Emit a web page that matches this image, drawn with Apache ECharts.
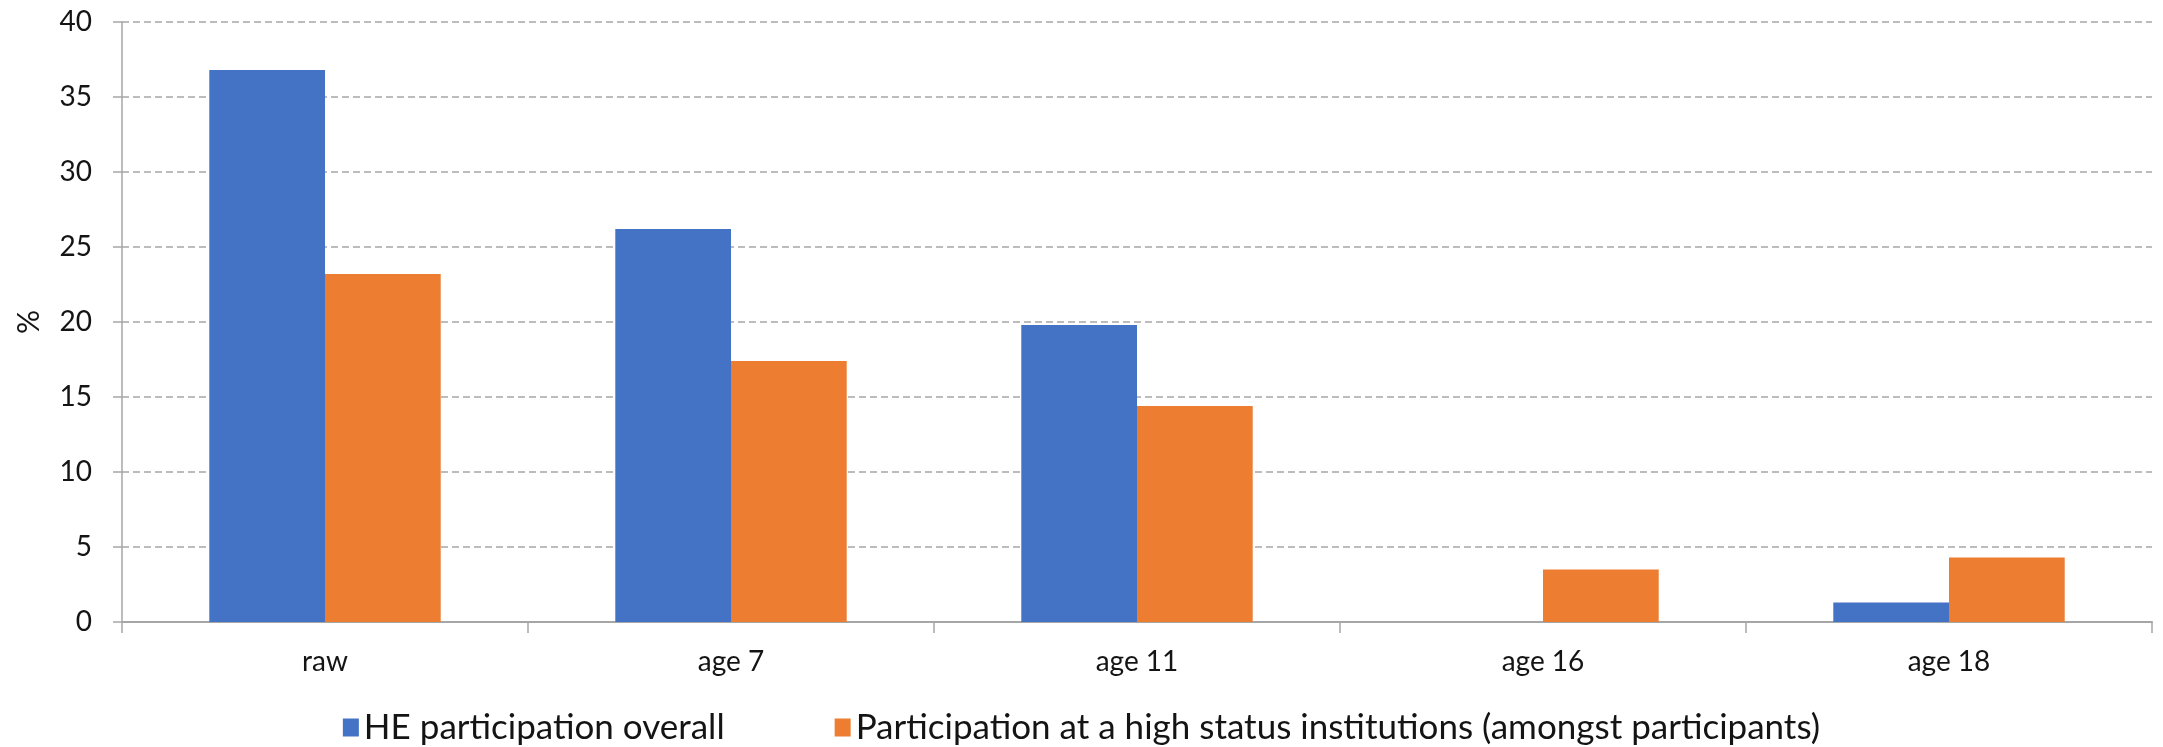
<!DOCTYPE html>
<html>
<head>
<meta charset="utf-8">
<title>HE participation</title>
<script src="https://cdn.jsdelivr.net/npm/echarts@6/dist/echarts.min.js"></script>
<style>
  html, body { margin: 0; padding: 0; background: #ffffff; }
  #chart { width: 2163px; height: 747px; }
</style>
</head>
<body>
<div id="chart"></div>
<script>
// Categories along the x axis
const categories = ['raw', 'age 7', 'age 11', 'age 16', 'age 18'];

// Series values (%)
const heOverall = [36.8, 26.2, 19.8, 0, 1.3];
const highStatus = [23.2, 17.4, 14.4, 3.5, 4.3];

// Series names
const seriesNames = [
  'HE participation overall',
  'Participation at a high status institutions (amongst participants)'
];

// Y axis range
const yMin = 0;
const yMax = 40;
const yStep = 5;

const FONT = 'Lato, "Open Sans", "Noto Sans", sans-serif';
const TEXT = '#141414';
const AXIS = '#a6a6a6';

const chart = echarts.init(document.getElementById('chart'), null, { renderer: 'canvas' });

chart.setOption({
  animation: false,
  backgroundColor: '#ffffff',
  textStyle: { fontFamily: FONT, color: TEXT },
  grid: { left: 122, right: 11, top: 22, bottom: 125, containLabel: false, outerBoundsMode: 'none' },
  legend: {
    data: seriesNames,
    left: 'center',
    top: 705,
    icon: 'rect',
    itemWidth: 16,
    itemHeight: 18,
    itemGap: 110,
    textStyle: { fontFamily: FONT, fontSize: 35, color: TEXT }
  },
  xAxis: {
    type: 'category',
    data: categories,
    axisLine: { show: true, lineStyle: { color: AXIS, width: 2 } },
    axisTick: { show: true, length: 11, lineStyle: { color: AXIS, width: 1.5 } },
    axisLabel: { fontFamily: FONT, fontSize: 28, color: TEXT, margin: 26 },
    splitLine: { show: false }
  },
  yAxis: {
    type: 'value',
    min: yMin,
    max: yMax,
    interval: yStep,
    name: '%',
    nameLocation: 'middle',
    nameGap: 78,
    nameRotate: 90,
    nameTextStyle: { fontFamily: FONT, fontSize: 30, color: TEXT },
    axisLine: { show: true, lineStyle: { color: AXIS, width: 1.5 } },
    axisTick: { show: true, length: 9, inside: false, lineStyle: { color: AXIS, width: 1.5 } },
    axisLabel: { fontFamily: FONT, fontSize: 28, color: TEXT, margin: 30 },
    splitLine: { show: true, lineStyle: { color: AXIS, width: 1.5, type: [7, 4] } }
  },
  series: [
    {
      name: seriesNames[0],
      type: 'bar',
      data: heOverall,
      barGap: '0%',
      barCategoryGap: '43%',
      itemStyle: { color: '#4472C4' }
    },
    {
      name: seriesNames[1],
      type: 'bar',
      data: highStatus,
      barGap: '0%',
      barCategoryGap: '43%',
      itemStyle: { color: '#ED7D31' }
    }
  ]
});
</script>
</body>
</html>
